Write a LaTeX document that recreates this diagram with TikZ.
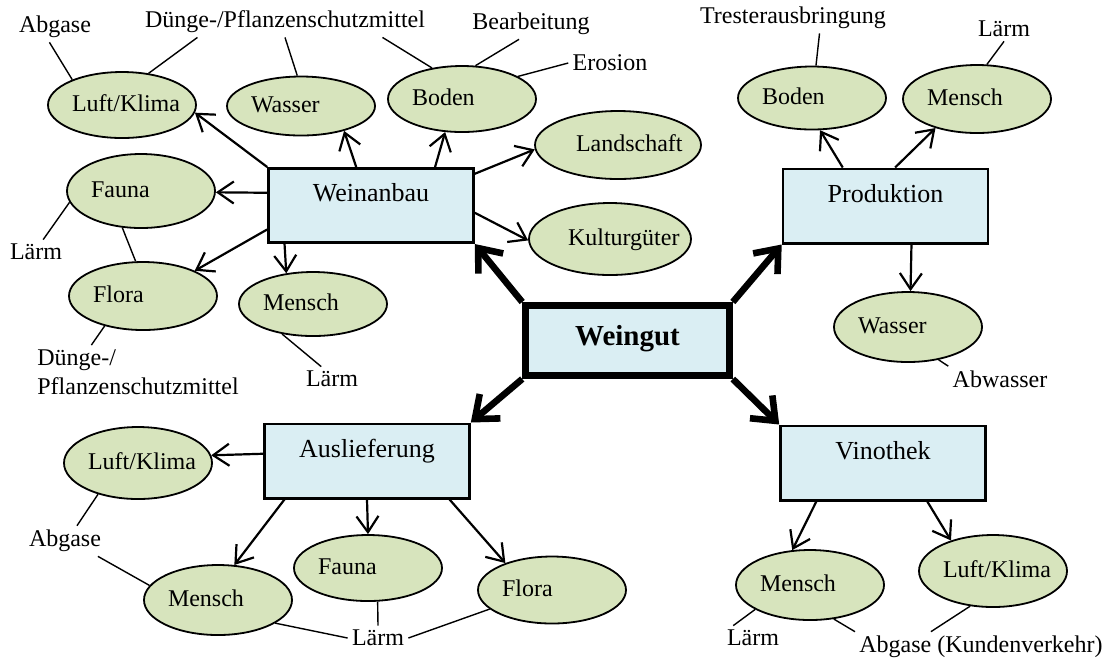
\documentclass[tikz,border=0pt]{standalone}
\usepackage{fontspec}
\setmainfont{Liberation Serif}
\usetikzlibrary{arrows.meta,shapes.geometric}
\definecolor{boxfill}{HTML}{DAEEF3}
\definecolor{envfill}{HTML}{D7E4BD}
\tikzset{
  stage/.style={draw, line width=1.3pt, fill=boxfill, minimum width=102.5pt,
    inner sep=0pt, text height=16.7pt, text depth=20.5pt,
    font=\fontsize{13}{15}\selectfont},
  env/.style={ellipse, draw, line width=0.9pt, fill=envfill, minimum width=74pt,
    minimum height=33pt, inner sep=0pt, text width=50pt, align=left,
    text height=9pt, text depth=3pt},
  note/.style={inner sep=2pt},
  effect/.style={line width=1.1pt, -{Straight Barb[length=8pt,width=11pt]}},
  main/.style={line width=3.3pt, -{Straight Barb[length=10pt,width=16pt]}},
  link/.style={line width=0.7pt},
}

\begin{document}
\begin{tikzpicture}[x=0.5pt, y=-0.5pt, font=\fontsize{12}{14.5}\selectfont]
  \useasboundingbox (0,0) rectangle (1113,661);

  \node[stage] (wb) at (371,205.5) {Weinanbau};
  \node[stage] (pr) at (885.5,206) {Produktion};
  \node[stage] (au) at (367,461) {Auslieferung};
  \node[stage] (vi) at (883,463) {Vinothek};
  \node[stage, line width=3.3pt, minimum width=102pt, text height=19.9pt,
    text depth=15.3pt, font=\bfseries\fontsize{14.5}{17}\selectfont] (wg) at (627.5,340.5) {Weingut};

  \node[env] (wbluft) at (122,105) {Luft/Klima};
  \node[env, minimum height=29.5pt] (wbwasser) at (301,106) {Wasser};
  \node[env] (wbboden) at (462,99) {Boden};
  \node[env, minimum width=83pt, minimum height=34pt, text width=42pt] (wbland) at (618,145) {Landschaft};
  \node[env, minimum width=81pt, minimum height=36pt, text width=42pt] (wbkultur) at (610,239) {Kulturgüter};
  \node[env, minimum height=37pt] (wbfauna) at (141,191) {Fauna};
  \node[env, minimum height=34pt] (wbflora) at (143,296) {Flora};
  \node[env, minimum height=32pt] (wbmensch) at (313,304) {Mensch};

  \node[env, minimum height=31.5pt] (prboden) at (812,98) {Boden};
  \node[env, minimum height=34pt] (prmensch) at (977,99) {Mensch};
  \node[env, minimum height=35pt] (prwasser) at (908,327) {Wasser};

  \node[env, minimum height=36pt] (auluft) at (138,463) {Luft/Klima};
  \node[env, minimum height=35pt] (aumensch) at (218,600) {Mensch};
  \node[env] (aufauna) at (368,568) {Fauna};
  \node[env, minimum height=33.5pt] (auflora) at (552,590) {Flora};

  \node[env, minimum height=35pt] (vimensch) at (810,585) {Mensch};
  \node[env, minimum height=36pt] (viluft) at (993,571) {Luft/Klima};

  \node[note] (n1) at (55,27) {Abgase};
  \node[note] (n2) at (285,22) {Dünge-/Pflanzenschutzmittel};
  \node[note] (n3) at (531,24) {Bearbeitung};
  \node[note] (n4) at (610,63) {Erosion};
  \node[note] (n5) at (793,18) {Tresterausbringung};
  \node[note] (n6) at (1004,29) {Lärm};
  \node[note] (n7) at (36,252) {Lärm};
  \node[note, align=left] (n8) at (138,372) {Dünge-/\\Pflanzenschutzmittel};
  \node[note] (n9) at (332,379) {Lärm};
  \node[note] (n10) at (65,541) {Abgase};
  \node[note] (n11) at (378,638) {Lärm};
  \node[note] (n12) at (1000,379) {Abwasser};
  \node[note] (n13) at (753,638) {Lärm};
  \node[note] (n14) at (981,647) {Abgase (Kundenverkehr)};

  \draw[main] (wg.north west) -- (wb.south east);
  \draw[main] (wg.north east) -- (pr.south west);
  \draw[main] (wg.south west) -- (au.north east);
  \draw[main] (wg.south east) -- (vi.north west);

  \draw[effect] (wb.north west) -- (wbluft.-6);
  \draw[effect] (wb.111) -- (wbwasser.-30);
  \draw[effect] (wb.31) -- (wbboden.-117);
  \draw[effect] (wb.17) -- (wbland.183);
  \draw[effect] (wb.-4) -- (wbkultur.181);
  \draw[effect] (wb.173) -- (wbfauna.-1);
  \draw[effect] (wb.193) -- (wbflora.26);
  \draw[effect] (wb.204) -- (wbmensch.131);

  \draw[effect] (pr.138) -- (prboden.-76);
  \draw[effect] (pr.76) -- (prmensch.-145);
  \draw[effect] (pr.-56) -- (prwasser.86);

  \draw[effect] (au.176) -- (auluft.6);
  \draw[effect] (au.205) -- (aumensch.65);
  \draw[effect] (au.south) -- (aufauna.north);
  \draw[effect] (au.-25) -- (auflora.150);

  \draw[effect] (vi.210) -- (vimensch.117);
  \draw[effect] (vi.-41) -- (viluft.144);

  \draw[link] (n1.250) -- (wbluft.153);
  \draw[link] (n2.190) -- (wbluft.50);
  \draw[link] (n2.south) -- (wbwasser.97);
  \draw[link] (n2.-9) -- (wbboden.134);
  \draw[link] (n3.232) -- (wbboden.68);
  \draw[link] (n4.west) -- (wbboden.22);
  \draw[link] (n5.-30) -- (prboden.83);
  \draw[link] (n6.south) -- (prmensch.74);
  \draw[link] (n7.60) -- (wbfauna.189);
  \draw[link] (wbfauna.243) -- (wbflora.102);
  \draw[link] (wbflora.218) -- (n8.150);
  \draw[link] (wbmensch.224) -- (n9.131);
  \draw[link] (auluft.218) -- (n10.52);
  \draw[link] (n10.-25) -- (aumensch.168);
  \draw[link] (aufauna.-74) -- (n11.north);
  \draw[link] (aumensch.-22) -- (n11.west);
  \draw[link] (n11.east) -- (auflora.197);
  \draw[link] (prwasser.-47) -- (n12.north west);
  \draw[link] (vimensch.204) -- (n13.148);
  \draw[link] (vimensch.-55) -- (n14.north west);
  \draw[link] (viluft.237) -- (n14.163);
\end{tikzpicture}
\end{document}
